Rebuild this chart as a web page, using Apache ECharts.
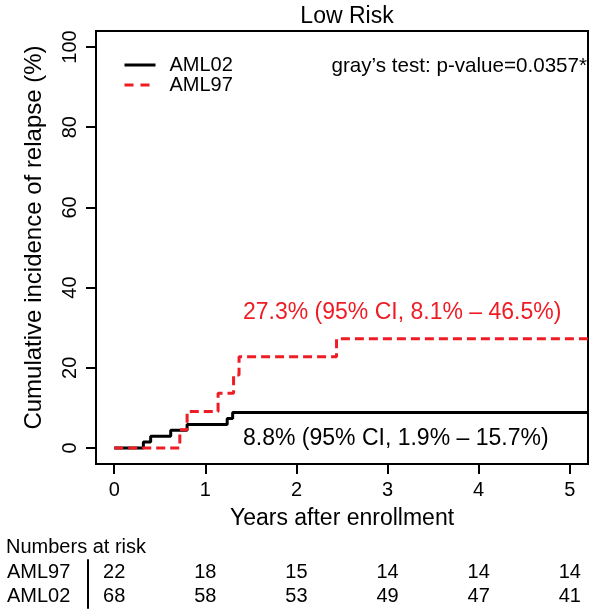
<!DOCTYPE html>
<html>
<head>
<meta charset="utf-8">
<script src="https://cdn.jsdelivr.net/npm/echarts@6/dist/echarts.min.js"></script>
<style>
html,body{margin:0;padding:0;background:#fff;}
#c{width:600px;height:615px;}
</style>
</head>
<body>
<div id="c"></div>
<script>
// ---- data ----
const times02 = [0, 0.32, 0.40, 0.62, 0.80, 1.24, 1.30, 5.2];
const cif02   = [0, 1.47, 2.94, 4.41, 5.88, 7.35, 8.82, 8.82];
const times97 = [0, 0.72, 0.80, 1.14, 1.31, 1.37, 2.44, 5.2];
const cif97   = [0, 4.55, 9.09, 13.64, 18.18, 22.73, 27.27, 27.27];
const xTicks = [0, 1, 2, 3, 4, 5];
const yTicks = [0, 20, 40, 60, 80, 100];
const riskTimes = [0, 1, 2, 3, 4, 5];
const riskGroups = ['AML02', 'AML97'];
const risk97 = [22, 18, 15, 14, 14, 14];
const risk02 = [68, 58, 53, 49, 47, 41];
const title = 'Low Risk';
const pText = 'gray\u2019s test: p-value=0.0357*';
const ann97 = '27.3% (95% CI, 8.1% \u2013 46.5%)';
const ann02 = '8.8% (95% CI, 1.9% \u2013 15.7%)';

const FONT = "'Liberation Sans', Arial, Helvetica, sans-serif";
const RED = '#ee1c25';

const chart = echarts.init(document.getElementById('c'), null, {renderer: 'canvas'});

const zip = (a, b) => a.map((v, i) => [v, b[i]]);

const riskData = [];
riskTimes.forEach((t, i) => {
  riskData.push([t, 'AML97', risk97[i]]);
  riskData.push([t, 'AML02', risk02[i]]);
});

chart.setOption({
  animation: false,
  backgroundColor: '#fff',
  textStyle: {fontFamily: FONT},
  title: {
    text: title, left: 342, top: 0, textAlign: 'center',
    textStyle: {fontFamily: FONT, fontSize: 23, fontWeight: 'normal', color: '#000'}
  },
  legend: {
    data: ['AML02', {name: 'AML97', lineStyle: {type: [9, 7]}}],
    orient: 'vertical', left: 123, top: 55, padding: 0,
    itemWidth: 31, itemHeight: 12, itemGap: 0,
    itemStyle: {opacity: 0},
    lineStyle: {width: 3},
    textStyle: {fontFamily: FONT, fontSize: 20, lineHeight: 18, color: '#000', padding: [0, 0, 0, 9]},
    selectedMode: false
  },
  grid: [
    {left: 96, right: 12, top: 31, bottom: 151, show: true, borderColor: '#000', borderWidth: 2, containLabel: false},
    {left: 96, right: 12, top: 560, height: 48, show: false}
  ],
  xAxis: [{
    gridIndex: 0, type: 'value', min: -0.2, max: 5.2,
    axisLine: {show: false, onZero: false},
    splitLine: {show: false},
    axisTick: {show: true, customValues: xTicks, length: 10, inside: false, lineStyle: {color: '#000', width: 2}},
    axisLabel: {customValues: xTicks, margin: 16, fontSize: 20, color: '#000', fontFamily: FONT},
    name: 'Years after enrollment', nameLocation: 'middle', nameGap: 43,
    nameTextStyle: {fontSize: 23, color: '#000', fontFamily: FONT}
  }, {
    gridIndex: 1, type: 'value', min: -0.2, max: 5.2, show: false,
    axisLine: {onZero: false}
  }],
  yAxis: [{
    gridIndex: 0, type: 'value', min: -4, max: 104,
    axisLine: {show: false, onZero: false},
    splitLine: {show: false},
    axisTick: {show: true, customValues: yTicks, length: 10, inside: false, lineStyle: {color: '#000', width: 2}},
    axisLabel: {customValues: yTicks, rotate: 90, margin: 16, fontSize: 20, color: '#000', fontFamily: FONT},
    name: 'Cumulative incidence of relapse (%)', nameLocation: 'middle', nameGap: 50,
    nameTextStyle: {fontSize: 24, color: '#000', fontFamily: FONT, padding: [0, 0, 0, 20]}
  }, {
    gridIndex: 1, type: 'category', data: riskGroups, offset: 8,
    axisLine: {show: true, onZero: false, lineStyle: {color: '#000', width: 2}},
    axisTick: {show: false},
    axisLabel: {show: true, interval: 0, align: 'left', margin: 81, fontSize: 20, color: '#000', fontFamily: FONT}
  }],
  series: [{
    name: 'AML02', type: 'line', step: 'end', xAxisIndex: 0, yAxisIndex: 0,
    data: zip(times02, cif02), showSymbol: false, symbol: 'none',
    lineStyle: {color: '#000', width: 3}, itemStyle: {color: '#000'},
    z: 2
  }, {
    name: 'AML97', type: 'line', step: 'end', xAxisIndex: 0, yAxisIndex: 0,
    data: zip(times97, cif97), showSymbol: false, symbol: 'none',
    lineStyle: {color: RED, width: 3, type: [9, 5]}, itemStyle: {color: RED},
    z: 3
  }, {
    name: 'risk', type: 'scatter', xAxisIndex: 1, yAxisIndex: 1,
    data: riskData, symbolSize: 0,
    itemStyle: {opacity: 1, color: '#000'},
    emphasis: {disabled: true},
    label: {show: true, position: 'inside', formatter: p => String(p.value[2]),
      fontSize: 20, color: '#000', opacity: 1, textBorderWidth: 0, fontFamily: FONT}
  }],
  graphic: [
    {type: 'text', x: 587, y: 66, style: {text: pText, fill: '#000', font: '20.6px ' + FONT, align: 'right', verticalAlign: 'middle'}},
    {type: 'text', x: 243, y: 313, style: {text: ann97, fill: RED, font: '23px ' + FONT, align: 'left', verticalAlign: 'middle'}},
    {type: 'text', x: 243, y: 439, style: {text: ann02, fill: '#000', font: '23px ' + FONT, align: 'left', verticalAlign: 'middle'}},
    {type: 'text', x: 6, y: 547, style: {text: 'Numbers at risk', fill: '#000', font: '20px ' + FONT, align: 'left', verticalAlign: 'middle'}}
  ]
});
</script>
</body>
</html>
